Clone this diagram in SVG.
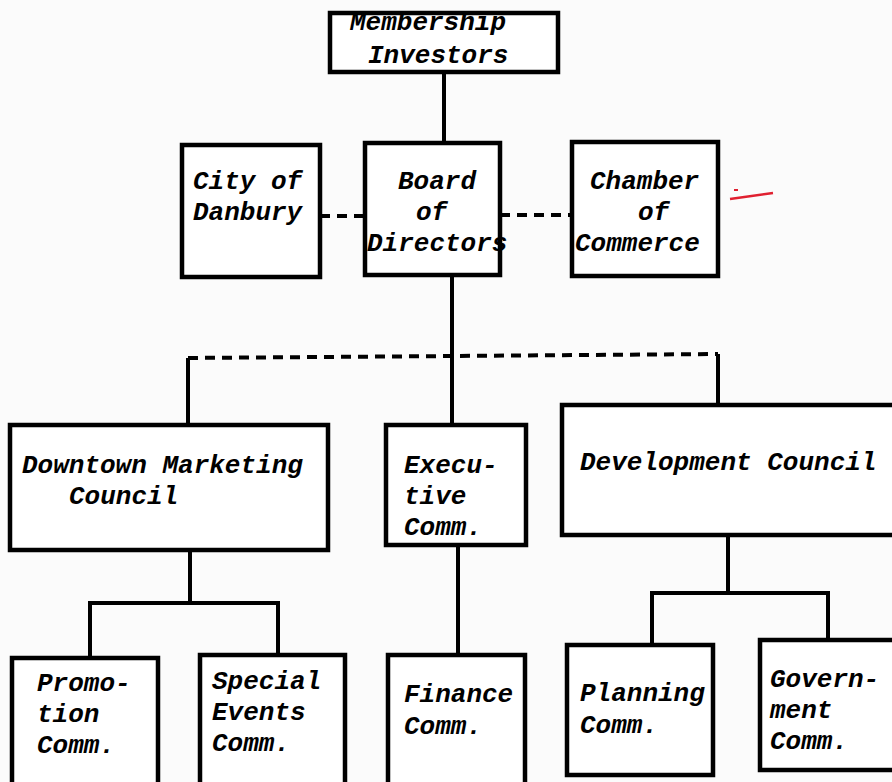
<svg xmlns="http://www.w3.org/2000/svg" width="892" height="782" viewBox="0 0 892 782">
<style>
.box{fill:#fff;stroke:#000;stroke-width:4.5}
.ln{fill:none;stroke:#000;stroke-width:4}
.dash{fill:none;stroke:#000;stroke-width:4;stroke-dasharray:10 7}
text{font-family:"Liberation Mono","Courier New",monospace;font-style:italic;font-weight:bold;font-size:26px;fill:#000}
</style>
<rect width="892" height="782" fill="#fbfbfb"/>
<g id="connectors">
<path class="ln" d="M444 72V143"/>
<path class="dash" d="M320 216H365"/>
<path class="dash" d="M500 215H572"/>
<path class="ln" d="M452 275V425"/>
<path class="dash" d="M188 358L718 354"/>
<path class="ln" d="M188 358V425"/>
<path class="ln" d="M718 354V405"/>
<path class="ln" d="M190 550V603M90 603H280M90 601V658M278 601V655"/>
<path class="ln" d="M458 545V655"/>
<path class="ln" d="M728 535V593M652 593H830M652 591V645M828 591V640"/>
</g>
<g id="membership"><rect class="box" x="330" y="13" width="228" height="59"/><text x="350" y="30">Membership</text><text x="368" y="63">Investors</text></g>
<g id="city"><rect class="box" x="182" y="145" width="138" height="132"/><text x="193" y="189">City of</text><text x="193" y="220">Danbury</text></g>
<g id="board"><rect class="box" x="365" y="143" width="135" height="132"/><text x="398" y="189">Board</text><text x="416" y="220">of</text><text x="367" y="251">Directors</text></g>
<g id="chamber"><rect class="box" x="572" y="142" width="146" height="134"/><text x="590" y="189">Chamber</text><text x="638" y="220">of</text><text x="575" y="251">Commerce</text></g>
<g id="dmc"><rect class="box" x="10" y="425" width="318" height="125"/><text x="22" y="473">Downtown Marketing</text><text x="69" y="504">Council</text></g>
<g id="exec"><rect class="box" x="386" y="425" width="140" height="120"/><text x="404" y="473">Execu-</text><text x="404" y="504">tive</text><text x="404" y="535">Comm.</text></g>
<g id="dev"><rect class="box" x="562" y="405" width="340" height="130"/><text x="580" y="470">Development Council</text></g>
<g id="promo"><rect class="box" x="12" y="658" width="146" height="140"/><text x="37" y="691">Promo-</text><text x="37" y="722">tion</text><text x="37" y="753">Comm.</text></g>
<g id="special"><rect class="box" x="200" y="655" width="145" height="140"/><text x="212" y="689">Special</text><text x="212" y="720">Events</text><text x="212" y="751">Comm.</text></g>
<g id="finance"><rect class="box" x="388" y="655" width="137" height="140"/><text x="404" y="702">Finance</text><text x="404" y="734">Comm.</text></g>
<g id="planning"><rect class="box" x="567" y="645" width="146" height="130"/><text x="580" y="701">Planning</text><text x="580" y="733">Comm.</text></g>
<g id="government"><rect class="box" x="760" y="640" width="140" height="130"/><text x="770" y="687">Govern-</text><text x="770" y="718">ment</text><text x="770" y="749">Comm.</text></g>
<path d="M730 199L773 193" stroke="#e02030" stroke-width="2.5" fill="none"/>
<path d="M734 190h4" stroke="#e02030" stroke-width="2" fill="none"/>
</svg>
